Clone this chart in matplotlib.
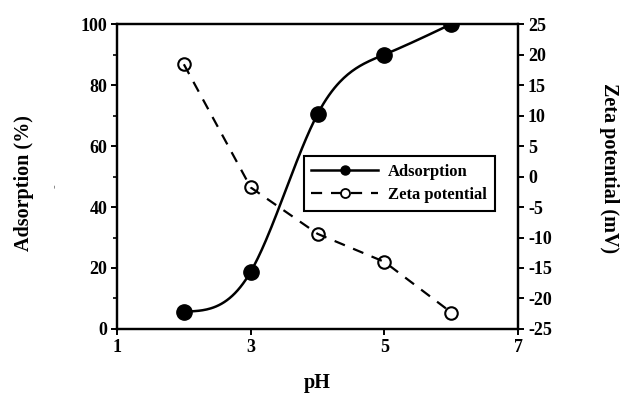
import matplotlib
matplotlib.use('Agg')
import matplotlib.pyplot as plt
import numpy as np

ph = [2, 3, 4, 5, 6]
adsorption = [5.7, 18.8, 70.5, 90.0, 100.0]
zeta = [18.4, -1.8, -9.4, -14.0, -22.3]


def natural_spline(x, y, n=200):
    # plain natural cubic spline, just for the smooth adsorption line
    x = np.asarray(x, float)
    y = np.asarray(y, float)
    k = len(x)
    h = np.diff(x)
    A = np.zeros((k, k))
    b = np.zeros(k)
    A[0, 0] = A[-1, -1] = 1
    for i in range(1, k - 1):
        A[i, i - 1] = h[i - 1]
        A[i, i] = 2 * (h[i - 1] + h[i])
        A[i, i + 1] = h[i]
        b[i] = 3 * ((y[i + 1] - y[i]) / h[i] - (y[i] - y[i - 1]) / h[i - 1])
    c = np.linalg.solve(A, b)
    xs = np.linspace(x[0], x[-1], n)
    ys = np.empty_like(xs)
    for j, t in enumerate(xs):
        i = min(np.searchsorted(x, t, side='right') - 1, k - 2)
        d = t - x[i]
        bi = (y[i + 1] - y[i]) / h[i] - h[i] * (2 * c[i] + c[i + 1]) / 3
        di = (c[i + 1] - c[i]) / (3 * h[i])
        ys[j] = y[i] + bi * d + c[i] * d ** 2 + di * d ** 3
    return xs, ys


plt.rcParams['font.family'] = 'Liberation Serif'
plt.rcParams['font.weight'] = 'bold'
plt.rcParams['axes.unicode_minus'] = False

fig = plt.figure(figsize=(6.24, 3.94), dpi=100)
ax = fig.add_axes([0.1875, 0.165, 0.643, 0.774])
ax2 = ax.twinx()

xs, ys = natural_spline(ph, adsorption)
ax.plot(xs, ys, color='black', lw=1.8)
ax.plot(ph, adsorption, 'o', color='black', ms=11)
l1, = ax.plot([], [], '-o', color='black', lw=1.8, ms=6.5, label='Adsorption')

ax2.plot(ph, zeta, '--o', color='black', lw=1.6, ms=9, mfc='none', mew=1.5,
         dashes=(5, 4))
l2, = ax2.plot([], [], '--o', color='black', lw=1.6, ms=6.5, mfc='white', mew=1.3,
               dashes=(5, 4), label='Zeta potential')

ax.set_xlim(1, 7)
ax.set_ylim(0, 100)
ax2.set_ylim(-25, 25)
ax.set_xticks([1, 3, 5, 7])
ax.set_yticks(range(0, 101, 20))
ax.set_yticks(range(10, 100, 20), minor=True)
ax2.set_yticks(range(-25, 26, 5))

for a in (ax, ax2):
    for s in a.spines.values():
        s.set_linewidth(1.6)
    a.tick_params(which='major', length=4, width=1.4, labelsize=13, pad=3)
    a.tick_params(which='minor', length=3, width=1.2)
    for lab in a.get_xticklabels() + a.get_yticklabels():
        lab.set_fontweight('bold')

# axis titles placed by hand, like in the original figure
fig.text(317 / 624, 1 - 383 / 394, 'pH', fontsize=14.5, fontweight='bold',
         ha='center', va='center')
fig.text(23.5 / 624, 1 - 183 / 394, 'Adsorption (%)', fontsize=14.5,
         fontweight='bold', rotation=90, ha='center', va='center')
fig.text(609 / 624, 1 - 168 / 394, 'Zeta potential (mV)', fontsize=14.5,
         fontweight='bold', rotation=270, ha='center', va='center')

leg = ax.legend(handles=[l1, l2], loc='upper left', bbox_to_anchor=(0.466, 0.567),
                borderaxespad=0, fancybox=False, edgecolor='black', framealpha=1,
                handlelength=4.0, handletextpad=0.6, labelspacing=0.45,
                borderpad=0.45, prop={'weight': 'bold', 'size': 12})
leg.get_frame().set_linewidth(1.5)

fig.text(0.088, 0.527, '-', rotation=90, color='gray', fontsize=8,
         ha='center', va='center')

fig.savefig('out.png', dpi=100)
